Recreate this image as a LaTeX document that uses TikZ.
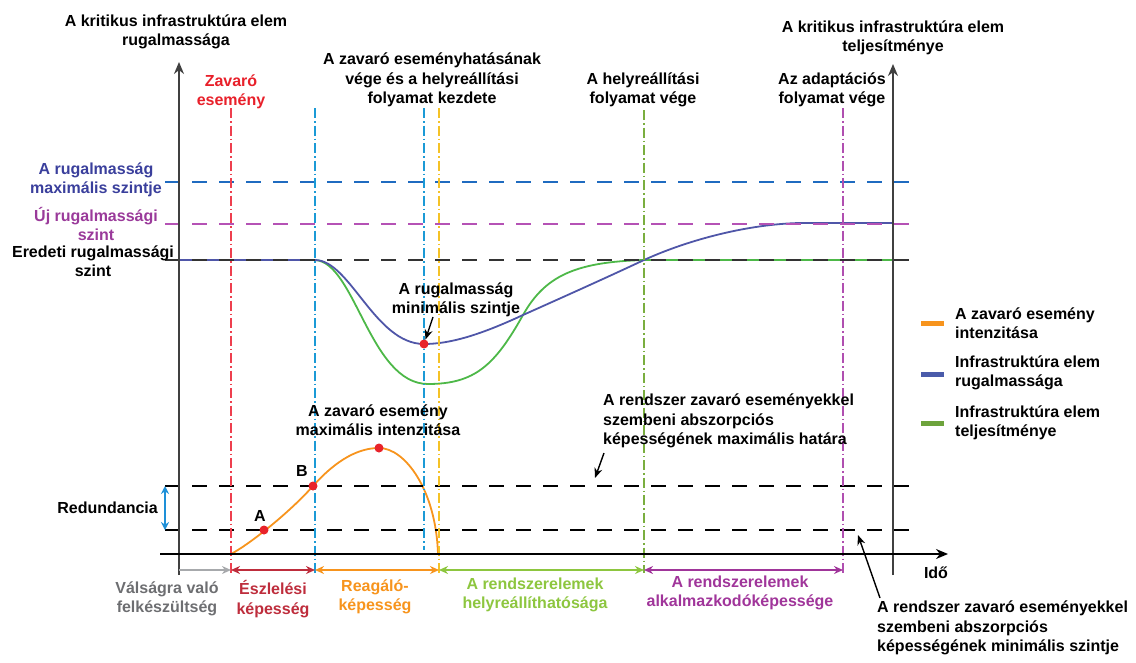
\documentclass[tikz,border=0pt]{standalone}
\usepackage{fontspec}
\setmainfont{Liberation Sans}
\usetikzlibrary{arrows.meta}

% palette
\definecolor{axisgray}{HTML}{404040}
\definecolor{dashgray}{HTML}{333333}
\definecolor{evtred}{HTML}{EE3F4E}
\definecolor{txtred}{HTML}{E8202A}
\definecolor{cyanline}{HTML}{1B9AD6}
\definecolor{yellowline}{HTML}{F5C226}
\definecolor{greenline}{HTML}{7AAE3F}
\definecolor{purpleline}{HTML}{B04FB0}
\definecolor{maxblue}{HTML}{1F6BC0}
\definecolor{newpurple}{HTML}{B552B5}
\definecolor{curveblue}{HTML}{4F56A8}
\definecolor{curvegreen}{HTML}{4DB848}
\definecolor{curveorange}{HTML}{F7941D}
\definecolor{dotred}{HTML}{E8232A}
\definecolor{txtblue}{HTML}{3A3F9C}
\definecolor{txtpurple}{HTML}{9A3A9A}
\definecolor{prepgray}{HTML}{6D6E71}
\definecolor{preparrow}{HTML}{A7A9AC}
\definecolor{detred}{HTML}{BE2D3C}
\definecolor{recgreen}{HTML}{8DC63F}
\definecolor{adpurple}{HTML}{A0359A}
\definecolor{legblue}{HTML}{4A5BAA}
\definecolor{leggreen}{HTML}{6DA33C}
\definecolor{redblue}{HTML}{1E90D8}

\begin{document}
\begin{tikzpicture}[x=1pt,y=-1pt,
  font=\bfseries\fontsize{16}{19.5}\selectfont,
  lbl/.style={align=center, inner sep=0pt},
  axisln/.style={draw=axisgray, line width=1.8pt},
  hdash/.style={line width=1.4pt, dash pattern=on 15pt off 12pt},
  vdashdot/.style={line width=1.2pt, dash pattern=on 10pt off 3pt on 1.5pt off 3pt},
  curve/.style={line width=1.8pt},
  span/.style={line width=1.8pt, {Stealth[length=9pt,width=8pt]}-{Stealth[length=9pt,width=8pt]}},
  note/.style={draw=black, line width=1.4pt, -{Stealth[length=10pt,width=8pt]}},
  dot/.style={circle, fill=dotred, inner sep=0pt, minimum size=9pt},
  swatch/.style={inner sep=0pt, minimum width=23pt, minimum height=5pt}
]
\useasboundingbox (0,0) rectangle (1136,662);

% key positions
\coordinate (yl0) at (179,575); \coordinate (yl1) at (179,62);
\coordinate (yr0) at (893,575); \coordinate (yr1) at (893,64);
\coordinate (t0) at (160,554);  \coordinate (t1) at (948,554);
\coordinate (h0) at (179,260);  \coordinate (drop) at (315,260);
\coordinate (rec) at (644,260); \coordinate (hR) at (893,260);
\coordinate (adapt) at (800,223); \coordinate (hRnew) at (893,223);
\coordinate (cross) at (523,315);
\coordinate (gmin) at (428,384);
\coordinate (ostart) at (231,554); \coordinate (oend) at (438,554);

% performance curve (green) and resilience curve (blue)
\draw[curve, curvegreen] (h0) -- (drop)
  .. controls (355,262) and (370,384) .. (gmin)
  .. controls (475,384) and (495,365) .. (cross)
  .. controls (545,276) and (575,262) .. (rec) -- (hR);
\draw[curve, curveblue] (h0) -- (drop)
  .. controls (350,260) and (375,344) .. (424,344)
  .. controls (450,344) and (480,335) .. (cross)
  .. controls (570,294) and (610,276) .. (rec)
  .. controls (690,239) and (750,224) .. (adapt) -- (hRnew);

% intensity of the disturbing event
\draw[curve, curveorange] (ostart)
  .. controls (250,544) and (290,512) .. (313,486)
  .. controls (338,458) and (360,448) .. (379,448)
  .. controls (405,448) and (436,490) .. (oend);

% horizontal reference levels
\coordinate (m0) at (165,182); \coordinate (m1) at (918,182);
\coordinate (n0) at (165,224); \coordinate (n1) at (918,224);
\coordinate (e0) at (165,260); \coordinate (e1) at (918,260);
\coordinate (u0) at (165,486); \coordinate (u1) at (918,486);
\coordinate (l0) at (165,530); \coordinate (l1) at (918,530);
\draw[hdash, maxblue] (m0) -- (m1);
\draw[hdash, newpurple] (n0) -- (n1);
\draw[hdash, dashgray] (e0) -- (e1);
\draw[hdash, black] (u0) -- (u1);
\draw[hdash, black] (l0) -- (l1);

% vertical event markers
\coordinate (vr0) at (231,108); \coordinate (vr1) at (231,573);
\coordinate (vc0) at (315,108); \coordinate (vc1) at (315,573);
\coordinate (vd0) at (424,108); \coordinate (vd1) at (424,550);
\coordinate (vy0) at (439,108); \coordinate (vy1) at (439,573);
\coordinate (vg0) at (644,110); \coordinate (vg1) at (644,573);
\coordinate (vp0) at (843,108); \coordinate (vp1) at (843,573);
\draw[vdashdot, evtred] (vr0) -- (vr1);
\draw[vdashdot, cyanline] (vc0) -- (vc1);
\draw[vdashdot, cyanline] (vd0) -- (vd1);
\draw[vdashdot, yellowline] (vy0) -- (vy1);
\draw[vdashdot, greenline] (vg0) -- (vg1);
\draw[vdashdot, purpleline] (vp0) -- (vp1);

% axes
\draw[axisln, -{Stealth[length=12pt,width=10pt]}] (yl0) -- (yl1);
\draw[axisln, -{Stealth[length=12pt,width=10pt]}] (yr0) -- (yr1);
\draw[axisln, draw=black, line width=1.4pt, -{Stealth[length=12pt,width=10pt]}] (t0) -- (t1);

% phase spans
\coordinate (s0) at (179,570); \coordinate (s1) at (231,570);
\coordinate (s2) at (315,570); \coordinate (s3) at (439,570);
\coordinate (s4) at (644,570); \coordinate (s5) at (843,570);
\draw[line width=1.8pt, preparrow, -{Stealth[length=9pt,width=8pt]}] (s0) -- (s1);
\draw[span, detred] (s1) -- (s2);
\draw[span, curveorange] (s2) -- (s3);
\draw[span, recgreen] (s3) -- (s4);
\draw[span, adpurple] (s4) -- (s5);

% redundancy range
\coordinate (r0) at (165,486); \coordinate (r1) at (165,530);
\draw[line width=1.6pt, redblue, {Stealth[length=8pt,width=8pt]}-{Stealth[length=8pt,width=8pt]}] (r0) -- (r1);

% marked points
\node[dot] (ptA) at (264,530) {};
\node[dot] (ptB) at (313,486) {};
\node[dot] (ptMax) at (379,448) {};
\node[dot] (ptMin) at (424,344) {};

% labels
\node[lbl] (ttlL) at (176,32) {A kritikus infrastruktúra elem\\rugalmassága};
\node[lbl] (ttlR) at (893,38) {A kritikus infrastruktúra elem\\teljesítménye};
\node[lbl, text=txtred] (evt) at (231,92) {Zavaró\\esemény};
\node[lbl] (endimp) at (432,80) {A zavaró eseményhatásának\\vége és a helyreállítási\\folyamat kezdete};
\node[lbl] (endrec) at (643,90) {A helyreállítási\\folyamat vége};
\node[lbl] (endad) at (832,90) {Az adaptációs\\folyamat vége};
\node[lbl, text=txtblue] (maxres) at (96,180) {A rugalmasság\\maximális szintje};
\node[lbl, text=txtpurple] (newres) at (96,224) {Új rugalmassági\\szint};
\node[lbl] (origres) at (93,261) {Eredeti rugalmassági\\szint};
\node[lbl] (minres) at (456,300) {A rugalmasság\\minimális szintje};
\node[lbl] (maxint) at (378,420) {A zavaró esemény\\maximális intenzitása};
\node[lbl, anchor=east] (redund) at (158,508) {Redundancia};
\node[lbl] (labA) at (260,516) {A};
\node[lbl] (labB) at (302,471) {B};
\node[lbl, anchor=west, align=left] (absmax) at (603,421)
  {A rendszer zavaró eseményekkel\\szembeni abszorpciós\\képességének maximális határa};
\node[lbl, anchor=west, align=left] (absmin) at (877,628)
  {A rendszer zavaró eseményekkel\\szembeni abszorpciós\\képességének minimális szintje};
\node[lbl] (ido) at (936,573) {Idő};

\node[lbl, text=prepgray] (prep) at (167,599) {Válságra való\\felkészültség};
\node[lbl, text=detred] (detect) at (273,599) {Észlelési\\képesség};
\node[lbl, text=curveorange] (react) at (375,597) {Reagáló-\\képesség};
\node[lbl, text=recgreen] (recov) at (535,595) {A rendszerelemek\\helyreállíthatósága};
\node[lbl, text=adpurple] (adapt) at (740,593) {A rendszerelemek\\alkalmazkodóképessége};

% pointers
\coordinate (pm0) at (433,317);
\draw[note] (pm0) -- (ptMin);
\coordinate (pa0) at (604,453); \coordinate (pa1) at (595,478);
\draw[note] (pa0) -- (pa1);
\coordinate (pb0) at (880,598); \coordinate (pb1) at (858,535);
\draw[note] (pb0) -- (pb1);

% legend
\node[swatch, fill=curveorange] (legO) at (932.5,323) {};
\node[swatch, fill=legblue] (legB) at (932.5,374) {};
\node[swatch, fill=leggreen] (legG) at (932.5,423) {};
\node[lbl, anchor=west, align=left] (legOt) at (955,323) {A zavaró esemény\\intenzitása};
\node[lbl, anchor=west, align=left] (legBt) at (955,373) {Infrastruktúra elem\\rugalmassága};
\node[lbl, anchor=west, align=left] (legGt) at (955,423) {Infrastruktúra elem\\teljesítménye};
\end{tikzpicture}
\end{document}
